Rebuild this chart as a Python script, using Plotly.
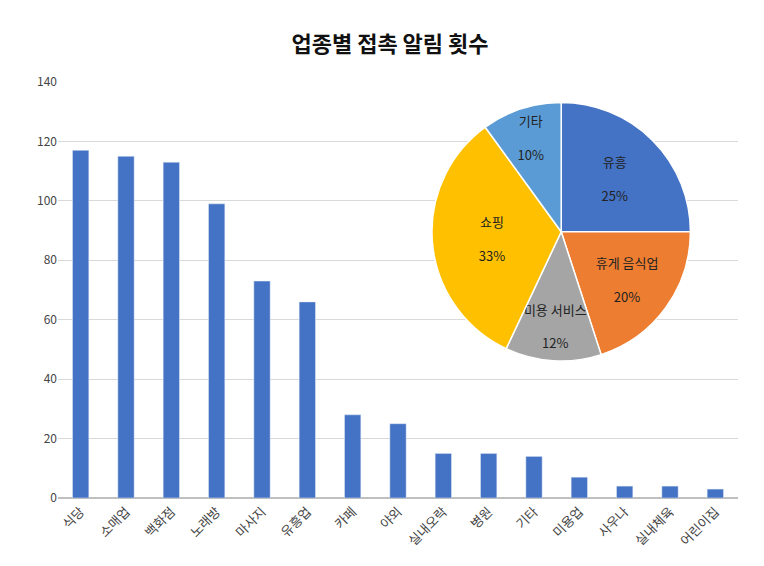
import plotly.graph_objects as go

# 막대 데이터
업종 = ["식당", "소매업", "백화점", "노래방", "마사지", "유흥업", "카페", "야외", "실내오락",
      "병원", "기타", "미용업", "사우나", "실내체육", "어린이집"]
횟수 = [117, 115, 113, 99, 73, 66, 28, 25, 15, 15, 14, 7, 4, 4, 3]

# 파이 데이터
분류 = ["유흥", "휴게 음식업", "미용 서비스", "쇼핑", "기타"]
비율 = [25, 20, 12, 33, 10]
파이색 = ["#4472C4", "#ED7D31", "#A5A5A5", "#FFC000", "#5B9BD5"]

FONT = "Noto Sans CJK KR"

fig = go.Figure()
fig.add_trace(go.Bar(x=업종, y=횟수, marker_color="#4472C4", width=0.36, showlegend=False))
fig.add_trace(go.Pie(
    labels=분류, values=비율, sort=False, direction="clockwise", rotation=0,
    marker=dict(colors=파이색, line=dict(color="white", width=1.5)),
    texttemplate="%{label}<br><br>%{percent:.0%}", textposition="inside",
    insidetextorientation="horizontal", textfont=dict(size=13, color="#222"),
    domain=dict(x=[0.55, 0.93], y=[0.32, 0.96]), showlegend=False,
))

fig.update_layout(
    width=764, height=566, plot_bgcolor="white", paper_bgcolor="white",
    margin=dict(l=50, r=34, t=74, b=76),
    font=dict(family=FONT, color="#444", size=12),
    title=dict(text="<b>업종별 접촉 알림 횟수</b>", x=0.5, y=0.95, xanchor="center",
               font=dict(size=22, color="#111", family=FONT)),
    uniformtext=dict(minsize=13, mode="show"),
    bargap=0.6,
)
fig.update_yaxes(range=[0, 140], dtick=20, gridcolor="#D9D9D9", showline=False,
                 zeroline=True, zerolinecolor="#BFBFBF", ticks="", tickfont=dict(size=12))
fig.update_xaxes(tickangle=-45, showline=True, linecolor="#BFBFBF", tickfont=dict(size=13))

fig.write_html("out.html")
